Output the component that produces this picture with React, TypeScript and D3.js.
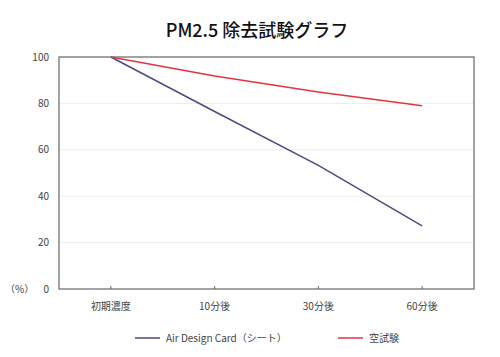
import React from "react";
import * as d3 from "d3";

const title = "PM2.5 除去試験グラフ";
const categories = ["初期濃度", "10分後", "30分後", "60分後"];
const airDesign = [100, 76.5, 53.3, 27.2];
const blank = [100, 91.8, 84.9, 79];
const yTicks = [0, 20, 40, 60, 80, 100];
const seriesNames = ["Air Design Card（シート）", "空試験"];
const colors = ["#4b4a86", "#e2343f"];

const W = 500, H = 357;
const m = { left: 59, right: 474, top: 57, bottom: 289 };
const font = "'Noto Sans CJK JP', 'Noto Sans', sans-serif";

export default function App() {
  const x = d3.scaleBand().domain(categories).range([m.left, m.right]);
  const y = d3.scaleLinear().domain([0, 100]).range([m.bottom, m.top]);
  const line = d3
    .line<number>()
    .x((_, i) => (x(categories[i]) as number) + x.bandwidth() / 2)
    .y((d) => y(d));
  const series = [airDesign, blank];
  const legendX = [135, 338];
  return (
    <svg width={W} height={H} style={{ position: "absolute", left: 0, top: 0, background: "#fff" }} fontFamily={font}>
      <rect width={W} height={H} fill="#fff" />
      <text x={257} y={37} textAnchor="middle" fontSize={18} fontWeight={500} fill="#111">
        {title}
      </text>
      {yTicks.filter((t) => t > 0 && t < 100).map((t) => (
        <line key={t} x1={m.left} x2={m.right} y1={y(t)} y2={y(t)} stroke="#ececec" strokeWidth={1} />
      ))}
      <rect x={m.left} y={m.top} width={m.right - m.left} height={m.bottom - m.top} fill="none" stroke="#666" strokeWidth={1.2} />
      {yTicks.map((t) => (
        <text key={t} x={49} y={y(t) + 3.5} textAnchor="end" fontSize={10} fill="#444">
          {t}
        </text>
      ))}
      <text x={5} y={y(0) + 4} fontSize={10} fill="#444">（%）</text>
      {categories.map((c) => {
        const cx = (x(c) as number) + x.bandwidth() / 2;
        return (
          <g key={c}>
            <line x1={cx} x2={cx} y1={m.bottom} y2={m.bottom - 3} stroke="#666" />
            <text x={cx} y={310} textAnchor="middle" fontSize={10} fill="#444">
              {c}
            </text>
          </g>
        );
      })}
      {series.map((s, i) => (
        <path key={i} d={line(s) || ""} fill="none" stroke={colors[i]} strokeWidth={1.5} />
      ))}
      {seriesNames.map((n, i) => (
        <g key={n}>
          <line x1={legendX[i]} x2={legendX[i] + 25} y1={338} y2={338} stroke={colors[i]} strokeWidth={1.5} />
          <text x={legendX[i] + 31} y={342} fontSize={10} fill="#444">
            {n}
          </text>
        </g>
      ))}
    </svg>
  );
}
